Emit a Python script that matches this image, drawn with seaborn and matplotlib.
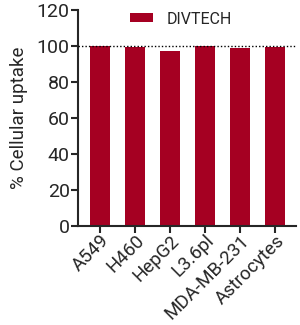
import matplotlib
matplotlib.use("Agg")
import matplotlib.pyplot as plt
import seaborn as sns
import pandas as pd

# ================= DATA =================
cell_lines = ["A549", "H460", "HepG2", "L3.6pl", "MDA-MB-231", "Astrocytes"]
uptake = [100.0, 99.6, 97.5, 100.0, 98.8, 99.3]
series_name = "DIVTECH"
y_ticks = [0, 20, 40, 60, 80, 100, 120]

df = pd.DataFrame({"cell": cell_lines, "uptake": uptake, "group": series_name})

# ================= STYLE =================
sns.set_style("ticks")
plt.rcParams["font.family"] = ["Roboto", "DejaVu Sans"]

fig = plt.figure(figsize=(3.0, 3.25), dpi=100)
ax = fig.add_axes([0.26, 0.305, 0.727, 0.664])

sns.barplot(data=df, x="cell", y="uptake", hue="group",
            palette=["#A50022"], saturation=1, width=0.57, ax=ax,
            linewidth=0)

ax.axhline(100, color="black", linestyle=(0, (1, 1.5)), linewidth=1.0, zorder=3)

ax.set_ylim(0, 120)
ax.set_xlim(-0.63, 5.6)
ax.set_yticks(y_ticks)
ax.tick_params(axis="y", labelsize=14, length=5, width=1.5, pad=1)
ax.tick_params(axis="x", labelsize=13.5, length=5, width=1.5, pad=-1)
plt.setp(ax.get_xticklabels(), rotation=45, ha="right", rotation_mode="anchor")

ax.set_xlabel("")
ax.set_ylabel("% Cellular uptake", fontsize=13.5, labelpad=6)
for s in ["left", "bottom"]:
    ax.spines[s].set_linewidth(1.5)
sns.despine(ax=ax)

ax.legend(loc="upper center", bbox_to_anchor=(0.47, 1.06), frameon=False,
          fontsize=11.5, handlelength=1.45, handleheight=0.46, handletextpad=0.85)

fig.savefig("out.png", dpi=100)
